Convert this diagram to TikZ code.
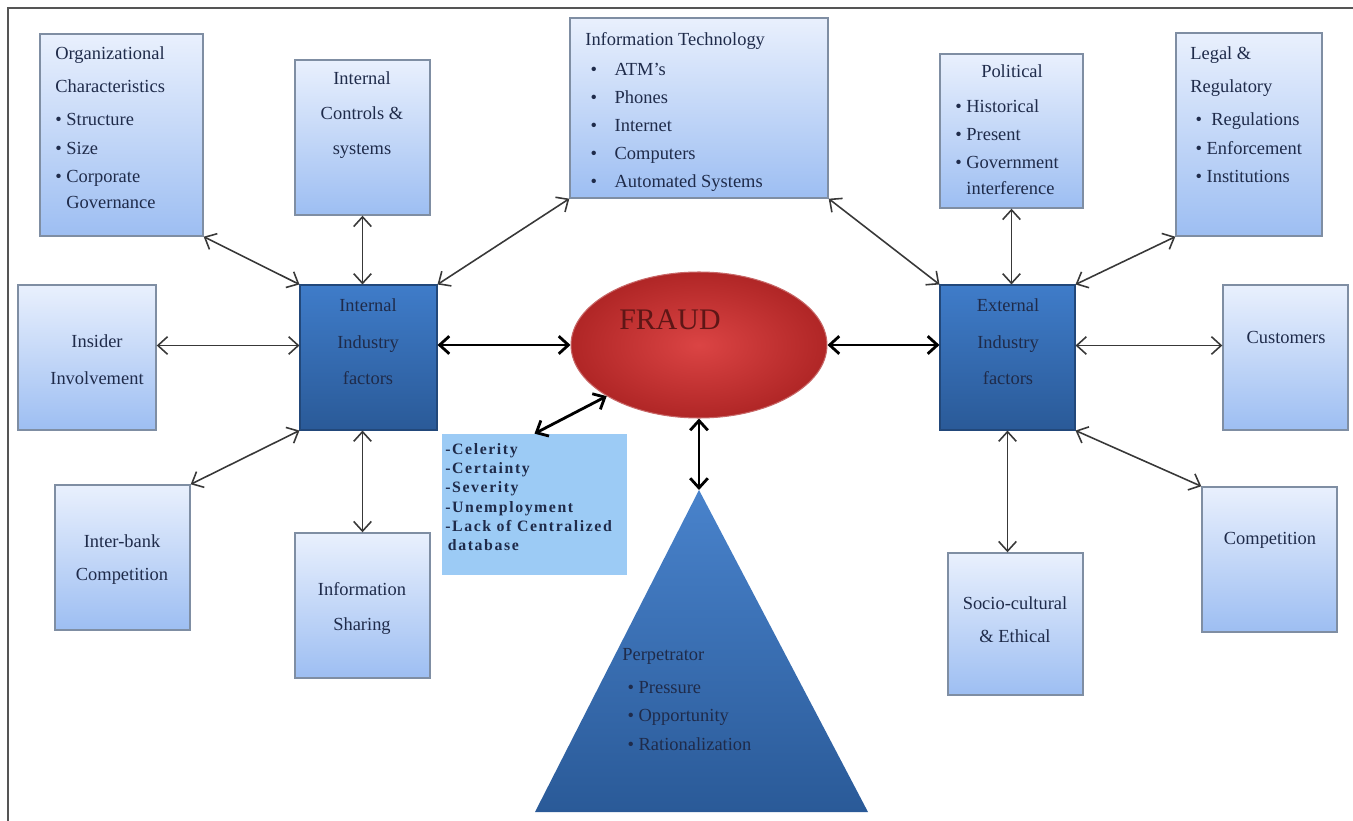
\documentclass[tikz,border=0pt]{standalone}
\usepackage{fontspec}
\setmainfont{Liberation Serif}
\newfontfamily\spacedbf[LetterSpace=10]{Liberation Serif}
\usetikzlibrary{fit,arrows.meta,shapes.geometric,positioning}

\definecolor{ink}{HTML}{1F2B4A}
\definecolor{boxedge}{HTML}{7F8EA3}
\definecolor{lighttop}{HTML}{E9F0FD}
\definecolor{lightbot}{HTML}{9DBEF2}
\definecolor{darktop}{HTML}{3F7CC9}
\definecolor{darkbot}{HTML}{2A5A98}
\definecolor{fraudin}{HTML}{DB4444}
\definecolor{fraudout}{HTML}{B02626}
\definecolor{fraudink}{HTML}{5E1616}
\definecolor{celfill}{HTML}{9CCBF5}
\definecolor{frame}{HTML}{555555}

\begin{document}
\begin{tikzpicture}[x=0.02cm, y=-0.02cm, >={Straight Barb[length=5.5pt,width=10pt]},
    lbox/.style={draw=boxedge, line width=0.8pt, top color=lighttop, bottom color=lightbot, inner sep=0pt},
    dbox/.style={draw=darkbot!80!black, line width=0.6pt, top color=darktop, bottom color=darkbot, inner sep=0pt},
    txt/.style={inner sep=0pt, text=ink, font=\fontsize{10.5}{16}\selectfont, align=left},
    ctxt/.style={txt, align=center, anchor=north},
    link/.style={<->, draw=black!78, line width=0.9pt},
    boldlink/.style={<->, draw=black, line width=1.6pt}]
\useasboundingbox (0,0) rectangle (1353,821);

% frame
\draw[frame, line width=1.5pt] (8,821) -- (8,8) -- (1353,8);

% outer boxes
\node[lbox, fit={(40,34) (203,236)}] (org) {};
\node[lbox, fit={(295,60) (430,215)}] (ctrl) {};
\node[lbox, fit={(570,18) (828,198)}] (it) {};
\node[lbox, fit={(940,54) (1083,208)}] (pol) {};
\node[lbox, fit={(1176,33) (1322,236)}] (legal) {};
\node[lbox, fit={(18,285) (156,430)}] (ins) {};
\node[lbox, fit={(1223,285) (1348,430)}] (cust) {};
\node[lbox, fit={(55,485) (190,630)}] (bank) {};
\node[lbox, fit={(295,533) (430,678)}] (share) {};
\node[lbox, fit={(948,553) (1083,695)}] (socio) {};
\node[lbox, fit={(1202,487) (1337,632)}] (comp) {};

% factor boxes
\node[dbox, fit={(300,285) (437,430)}] (int) {};
\node[dbox, fit={(940,285) (1075,430)}] (ext) {};

% fraud and deterrents
\node[ellipse, draw=fraudout!70!white, line width=0.6pt, inner color=fraudin, outer color=fraudout,
      minimum width=5.12cm, minimum height=2.92cm, inner sep=0pt] (fraud) at (699,345) {};
\node[fill=celfill, inner sep=0pt, fit={(442,434) (627,575)}] (cel) {};

% perpetrator triangle
\coordinate (apex) at (699,490);
\shade[top color=darktop!95!white, bottom color=darkbot] (apex) -- (868,812) -- (535,812) -- cycle;

% texts
\node[txt, anchor=north west] (orgtxt) at (55,46) {Organizational\\[3pt]
  Characteristics\\[3pt]
  \textbullet~Structure\\
  \textbullet~Size\\
  \textbullet~Corporate\\[-1pt]
  \phantom{\textbullet~}Governance};
\node[ctxt] (ctrltxt) at (362,71) {Internal\\[4pt]Controls \&\\[4pt]systems};
\node[txt, anchor=north west] (ittxt) at (585,32) {Information Technology\\[1pt]
  \hspace*{3pt}\textbullet\hspace{10pt}ATM’s\\
  \hspace*{3pt}\textbullet\hspace{10pt}Phones\\
  \hspace*{3pt}\textbullet\hspace{10pt}Internet\\
  \hspace*{3pt}\textbullet\hspace{10pt}Computers\\
  \hspace*{3pt}\textbullet\hspace{10pt}Automated Systems};
\node[ctxt] (polhead) at (1012,64) {Political};
\node[txt, anchor=north west] (poltxt) at (955,99) {\textbullet~Historical\\
  \textbullet~Present\\
  \textbullet~Government\\[-1pt]
  \phantom{\textbullet~}interference};
\node[txt, anchor=north west] (legaltxt) at (1190,46) {Legal \&\\[3pt]
  Regulatory\\[3pt]
  \hspace*{3pt}\textbullet~ Regulations\\
  \hspace*{3pt}\textbullet~Enforcement\\
  \hspace*{3pt}\textbullet~Institutions};
\node[ctxt] (instxt) at (97,334) {Insider\\[5pt]Involvement};
\node[ctxt] (inttxt) at (368,298) {Internal\\[5pt]Industry\\[5pt]factors};
\node[ctxt] (exttxt) at (1008,298) {External\\[5pt]Industry\\[5pt]factors};
\node[ctxt] (custtxt) at (1286,331) {Customers};
\node[ctxt] (banktxt) at (122,534) {Inter-bank\\[3pt]Competition};
\node[ctxt] (sharetxt) at (362,582) {Information\\[4pt]Sharing};
\node[ctxt] (sociotxt) at (1015,596) {Socio-cultural\\[3pt]\& Ethical};
\node[ctxt] (comptxt) at (1270,532) {Competition};
\node[txt, anchor=north west, font=\spacedbf\bfseries\fontsize{9}{11}\selectfont] (celtxt) at (445,443)
  {-Celerity\\-Certainty\\-Severity\\-Unemployment\\-Lack of Centralized\\\,database};
\node[txt, anchor=north west] (perptxt) at (622,648) {Perpetrator\\[3pt]
  \hspace*{3pt}\textbullet~Pressure\\
  \hspace*{3pt}\textbullet~Opportunity\\
  \hspace*{3pt}\textbullet~Rationalization};
\node[inner sep=0pt, text=fraudink, font=\fontsize{17}{20}\selectfont] (fraudtxt) at (670,320) {FRAUD};

% connectors
\draw[link] (org.south east) -- (int.north west);
\draw[link] (ctrl.south) -- (ctrl.south |- int.north);
\draw[link] (it.south west) -- (int.north east);
\draw[link] ([yshift=0.24cm]ins.east) -- ([yshift=0.24cm]int.west);
\draw[link] (bank.north east) -- (int.south west);
\draw[link] (share.north) -- (share.north |- int.south);
\draw[boldlink] (int.east |- fraud.west) -- (fraud.west);
\draw[boldlink] (fraud.209) -- (cel.north);
\draw[boldlink] (fraud.south) -- (apex);
\draw[boldlink] (fraud.east) -- (fraud.east -| ext.west);
\draw[link] (it.south east) -- (ext.north west);
\draw[link] (pol.south) -- (pol.south |- ext.north);
\draw[link] (legal.south west) -- (ext.north east);
\draw[link] ([yshift=0.24cm]ext.east) -- ([yshift=0.24cm]cust.west);
\draw[link] (ext.south east) -- (comp.north west);
\draw[link] (ext.south) -- (ext.south |- socio.north);
\end{tikzpicture}
\end{document}
